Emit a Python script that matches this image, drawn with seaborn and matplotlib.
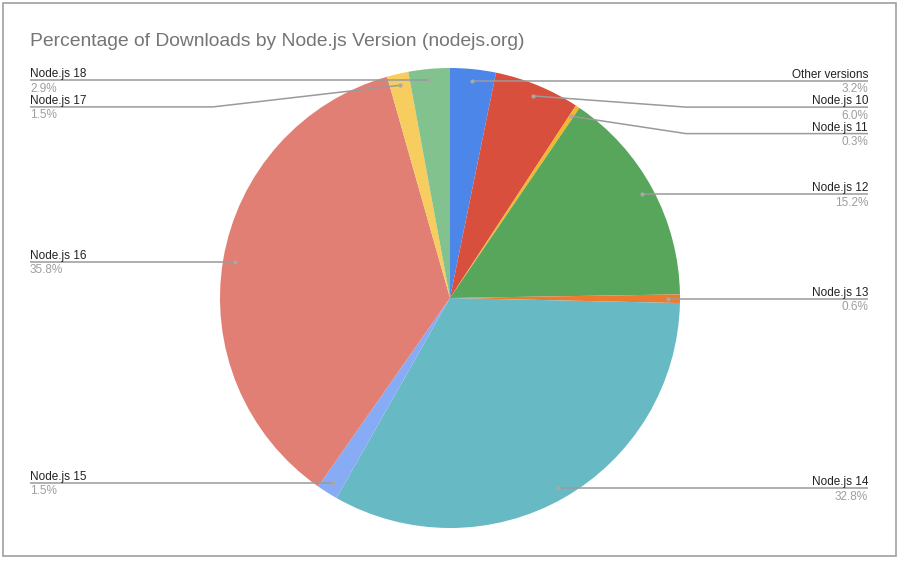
import numpy as np
import matplotlib
matplotlib.use("Agg")
import matplotlib.pyplot as plt
import seaborn as sns

# data, clockwise from 12 o'clock
versions = ["Other versions", "Node.js 10", "Node.js 11", "Node.js 12", "Node.js 13",
            "Node.js 14", "Node.js 15", "Node.js 16", "Node.js 17", "Node.js 18"]
shares = [3.2, 6.0, 0.3, 15.2, 0.6, 32.8, 1.5, 35.8, 1.5, 2.9]
colors = ["#4d86e9", "#d94f3d", "#f3b62d", "#58a65c", "#ee7a2e",
          "#67b9c4", "#87abf4", "#e17f74", "#f6cd5e", "#82c28e"]

sns.set_theme(style="white")
plt.rcParams["font.family"] = ["Liberation Sans", "DejaVu Sans"]

W, H = 900, 561
fig = plt.figure(figsize=(9, 5.61), dpi=100)
ax = fig.add_axes([0, 0, 1, 1])

cx, cy, r = 450, H - 298, 230
ax.pie(shares, colors=colors, startangle=90, counterclock=False,
       center=(cx, cy), radius=r, wedgeprops=dict(linewidth=0))
ax.set_xlim(0, W)
ax.set_ylim(0, H)
ax.set_aspect("auto")
ax.axis("off")

# chart border
ax.add_patch(plt.Rectangle((3, H - 556), 893, 553, fill=False, ec="#a0a0a0", lw=1.2))

ax.text(30, H - 46, "Percentage of Downloads by Node.js Version (nodejs.org)",
        fontsize=13.9, color="#757575", va="baseline", ha="left")

# leader lines and labels
total = sum(shares)
cum = np.cumsum([0] + shares)
mids = (cum[:-1] + cum[1:]) / 2 / total * 2 * np.pi
dots_x = cx + 0.95 * r * np.sin(mids)
dots_y = cy + 0.95 * r * np.cos(mids)

gap = 26.5
for side in ("right", "left"):
    idx = [i for i in range(len(shares)) if (np.sin(mids[i]) > 0) == (side == "right")]
    idx.sort(key=lambda i: -dots_y[i])
    prev = None
    for i in idx:
        ly = dots_y[i] if prev is None else min(dots_y[i], prev - gap)
        prev = ly
        if side == "right":
            tx, elbow, ha = 868, cx + 236, "right"
        else:
            tx, elbow, ha = 30, cx - 237, "left"
        ax.plot([dots_x[i], elbow, tx], [dots_y[i], ly, ly], color="#9a9a9a", lw=1.1,
                solid_capstyle="butt")
        ax.plot(dots_x[i], dots_y[i], "o", ms=3, color="#a8a8a8", mec="none")
        ax.text(tx, ly + 3, versions[i], fontsize=8.5, color="#222222",
                ha=ha, va="baseline")
        ax.text(tx, ly - 11.5, f"{shares[i]:.1f}%", fontsize=8.5, color="#9e9e9e",
                ha=ha, va="baseline")

fig.savefig("out.png", dpi=100)
